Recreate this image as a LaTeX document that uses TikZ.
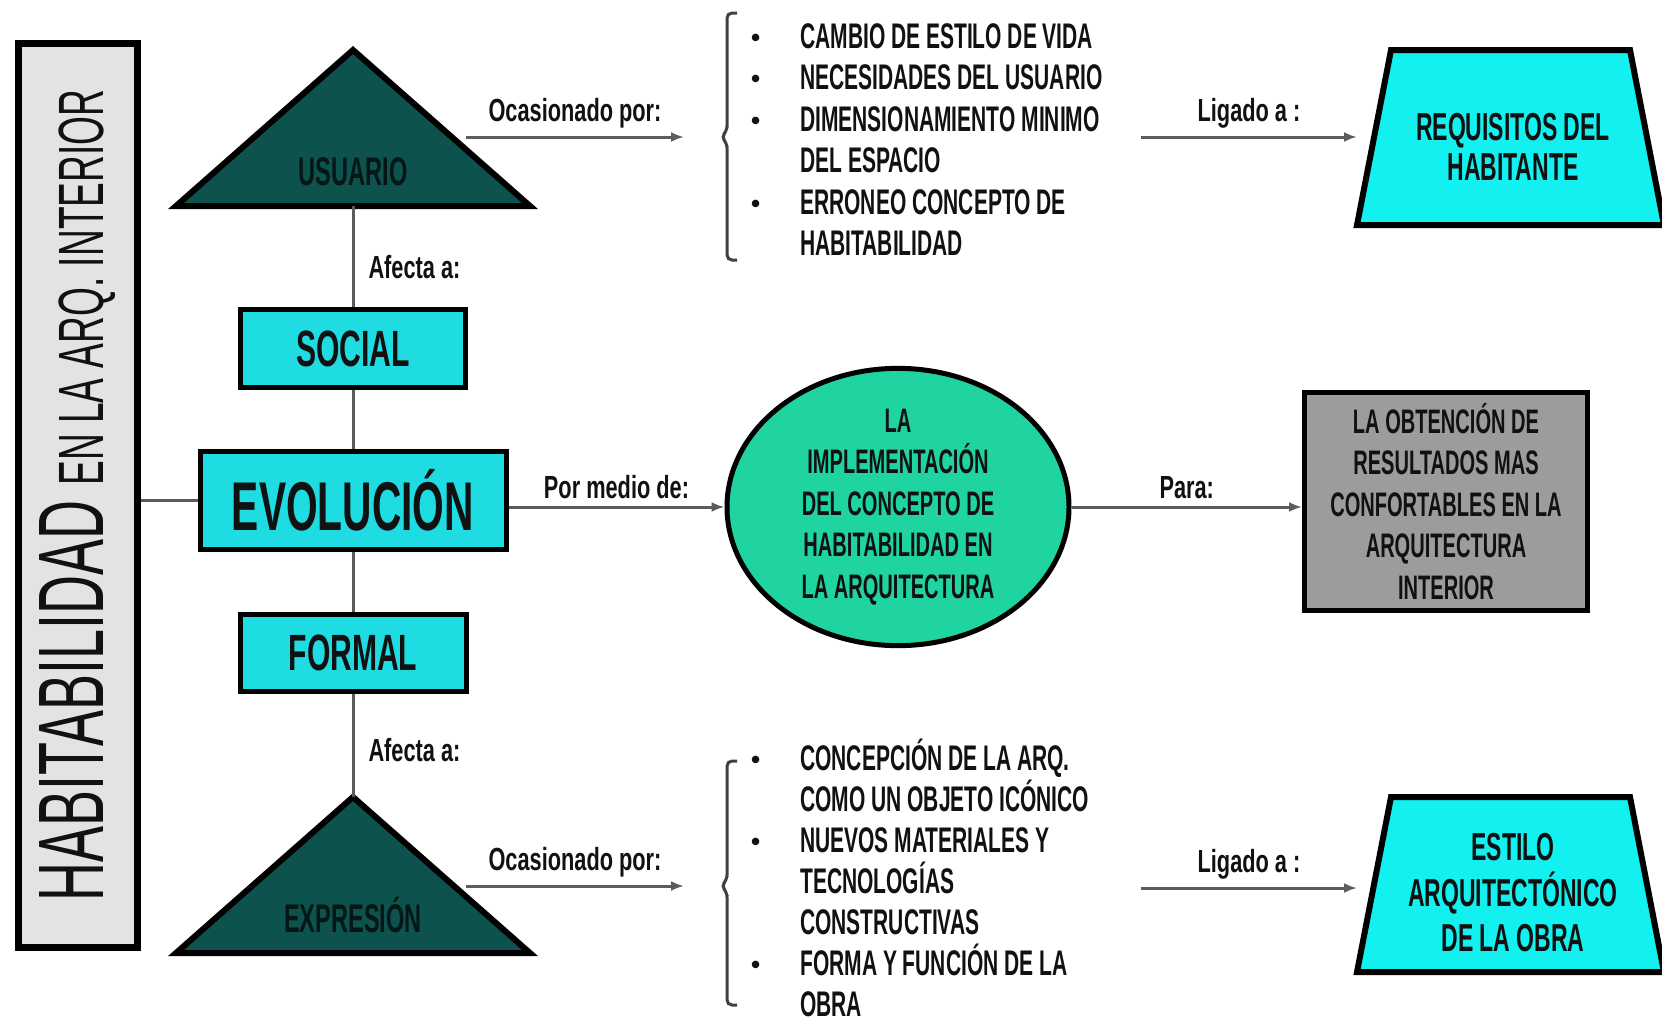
\documentclass[tikz,border=0pt]{standalone}
\usepackage{fontspec}
\setmainfont{Liberation Sans}[FakeStretch=0.59]
\newfontfamily\titlefont{Liberation Sans}[FakeStretch=0.58]
\newfontfamily\etiqfont{Liberation Sans}[FakeStretch=0.68]
\newfontfamily\bulfont{Liberation Sans}
\usetikzlibrary{arrows.meta,shapes.geometric}

\definecolor{celeste}{HTML}{1FDCE2}
\definecolor{turquesa}{HTML}{12F0F0}
\definecolor{petroleo}{HTML}{0E524E}
\definecolor{menta}{HTML}{20D4A2}
\definecolor{gristitulo}{HTML}{E3E3E3}
\definecolor{grisbloque}{HTML}{9C9C9C}
\definecolor{gristrazo}{HTML}{5C5C5C}
\definecolor{tinta}{HTML}{111111}
\definecolor{tintaosc}{HTML}{041615}

\newcommand{\ejex}{353}
\newcommand{\vineta}{\llap{\makebox[49pt][l]{\bulfont\fontsize{26}{26}\selectfont\raisebox{2pt}{\textbullet}}}}

\tikzset{
  caja/.style={draw=black, line width=5pt, fill=celeste, text=tinta, inner sep=0pt,
    font=\bfseries\fontsize{51}{51}\selectfont},
  triang/.style={draw=black, line width=6pt, fill=petroleo},
  rotulo/.style={text=tintaosc, inner sep=0pt, font=\bfseries\fontsize{40}{40}\selectfont},
  trapecio/.style={draw=black, line width=6pt, fill=turquesa},
  enlace/.style={draw=gristrazo, line width=3pt},
  flecha/.style={enlace, -{Latex[length=13pt,width=10pt]}},
  etiq/.style={text=tinta, inner sep=2pt, font=\etiqfont\bfseries\fontsize{32}{32}\selectfont},
  lista/.style={anchor=base west, align=left, text=tinta, inner sep=0pt,
    font=\bfseries\fontsize{35.6}{41.4}\selectfont},
  bloque/.style={align=center, text=tinta, inner sep=0pt,
    font=\bfseries\fontsize{34}{41.5}\selectfont}
}

\begin{document}
\begin{tikzpicture}[x=1pt, y=-1pt]
  \useasboundingbox (0,0) rectangle (1662,1023);

  \node[draw=black, line width=7pt, fill=gristitulo, text=tinta, inner sep=0pt,
        minimum width=119pt, minimum height=904pt] (titulo) at (78,495.5)
    {\rotatebox{90}{\titlefont\fontsize{93}{93}\selectfont HABITABILIDAD {\fontsize{64}{64}\selectfont EN LA ARQ. INTERIOR}}};

  \draw[triang] (\ejex,50) -- (530,206) -- (176,206) -- cycle;
  \node[rotulo] (usuario) at (\ejex,172) {USUARIO};
  \coordinate (usuBase) at (\ejex,206);

  \node[caja, minimum width=225pt, minimum height=78pt] (social) at (\ejex,348.5) {SOCIAL};
  \node[caja, minimum width=306pt, minimum height=98pt,
        font=\bfseries\fontsize{69}{69}\selectfont] (evol) at (\ejex,500.5) {EVOLUCIÓN};
  \node[caja, minimum width=226pt, minimum height=77pt] (formal) at (\ejex,653) {FORMAL};

  \draw[triang] (\ejex,797) -- (530,953) -- (176,953) -- cycle;
  \node[rotulo] (expresion) at (\ejex,915) {EXPRESIÓN};
  \coordinate (expApex) at (\ejex,797);

  \draw[enlace] (usuBase) -- node[etiq, right=12pt, pos=0.6] (afectaA) {Afecta a:} (social.north);
  \draw[enlace] (social.south) -- (evol.north);
  \draw[enlace] (evol.south) -- (formal.north);
  \draw[enlace] (formal.south) -- node[etiq, right=12pt, pos=0.54] (afectaB) {Afecta a:} (expApex);
  \draw[enlace] (titulo.east |- evol.west) -- (evol.west);

  % base = linea final de cada lista
  \node[lista, font=\bfseries\fontsize{35.6}{41.5}\selectfont] (causasA) at (800,255.5)
    {\vineta CAMBIO DE ESTILO DE VIDA\\
     \vineta NECESIDADES DEL USUARIO\\
     \vineta DIMENSIONAMIENTO MINIMO\\
     DEL ESPACIO\\
     \vineta ERRONEO CONCEPTO DE\\
     HABITABILIDAD};
  \node[lista, font=\bfseries\fontsize{35.6}{41}\selectfont] (causasB) at (800,1016)
    {\vineta CONCEPCIÓN DE LA ARQ.\\
     COMO UN OBJETO ICÓNICO\\
     \vineta NUEVOS MATERIALES Y\\
     TECNOLOGÍAS\\
     CONSTRUCTIVAS\\
     \vineta FORMA Y FUNCIÓN DE LA\\
     OBRA};

  \foreach \arriba/\punta/\abajo in {13/137/260, 761/886/1005}
    \draw[black!75, line width=3pt, rounded corners=5pt]
      (737,\arriba) -- (727,\arriba) -- (727,\punta-6) -- (721,\punta)
      -- (727,\punta+6) -- (727,\abajo) -- (737,\abajo);

  \coordinate (salidaA) at (466,137);
  \coordinate (llaveA) at (684,137);
  \coordinate (salidaB) at (466,886);
  \coordinate (llaveB) at (684,886);
  \draw[flecha] (salidaA) -- node[etiq, above=5pt] (ocasA) {Ocasionado por:} (llaveA);
  \draw[flecha] (salidaB) -- node[etiq, above=5pt] (ocasB) {Ocasionado por:} (llaveB);

  \draw[trapecio] (1391,50) -- (1630,50) -- (1664,225) -- (1357,225) -- cycle;
  \node[bloque, font=\bfseries\fontsize{39}{40}\selectfont] (requisitos) at (1513,147) {REQUISITOS DEL\\HABITANTE};
  \draw[trapecio] (1391,797) -- (1630,797) -- (1664,972) -- (1357,972) -- cycle;
  \node[bloque, font=\bfseries\fontsize{39}{45.5}\selectfont] (estilo) at (1513,893) {ESTILO\\ARQUITECTÓNICO\\DE LA OBRA};

  \coordinate (ligaA) at (1141,137);
  \coordinate (finA) at (1357,137);
  \coordinate (ligaB) at (1141,888);
  \coordinate (finB) at (1357,888);
  \draw[flecha] (ligaA) -- node[etiq, above=5pt] (ligadoA) {Ligado a :} (finA);
  \draw[flecha] (ligaB) -- node[etiq, above=5pt] (ligadoB) {Ligado a :} (finB);

  \node[bloque, ellipse, draw=black, line width=5pt, fill=menta,
        minimum width=342pt, minimum height=273pt] (implem) at (898,507)
    {LA\\IMPLEMENTACIÓN\\DEL CONCEPTO DE\\HABITABILIDAD EN\\LA ARQUITECTURA};
  \node[bloque, draw=black, line width=5pt, fill=grisbloque,
        minimum width=283pt, minimum height=218pt] (obtencion) at (1446,501.5)
    {LA OBTENCIÓN DE\\RESULTADOS MAS\\CONFORTABLES EN LA\\ARQUITECTURA\\INTERIOR};

  \draw[flecha] (evol.east |- implem.west) -- node[etiq, above=5pt] (pormedio) {Por medio de:} (implem.west);
  \draw[flecha] (implem.east) -- node[etiq, above=5pt] (para) {Para:} (obtencion.west |- implem.east);
\end{tikzpicture}
\end{document}
